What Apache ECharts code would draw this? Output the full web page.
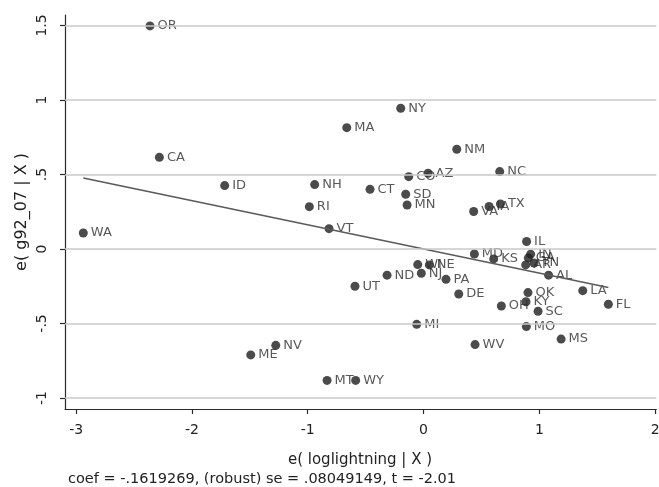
<!DOCTYPE html>
<html>
<head>
<meta charset="utf-8">
<script src="https://cdn.jsdelivr.net/npm/echarts@6/dist/echarts.min.js"></script>
<style>
  html, body { margin: 0; padding: 0; background: #ffffff; }
  #chart { width: 659px; height: 487px; }
</style>
</head>
<body>
<div id="chart"></div>
<script>
// Added-variable plot: residual growth vs residual log lightning, by state
const states = ['OR','MA','NY','CA','ID','NH','CT','CO','AZ','NM','NC','SD','MN','RI','VA','IA','TX','WA','VT',
  'IL','MD','KS','IN','GA','TN','AR','AL','WI','NE','NJ','ND','PA','DE','OK','KY','OH','SC','MI','MO','WV',
  'MS','UT','LA','FL','NV','ME','MT','WY'];
const xResid = [-2.362,-0.663,-0.197,-2.281,-1.717,-0.940,-0.462,-0.128,0.039,0.287,0.658,-0.154,-0.142,-0.986,0.433,0.566,0.664,-2.938,-0.816,
  0.890,0.439,0.606,0.925,0.905,0.954,0.882,1.080,-0.050,0.050,-0.019,-0.315,0.194,0.304,0.902,0.885,0.672,0.989,-0.059,0.888,0.445,
  1.188,-0.592,1.375,1.596,-1.276,-1.492,-0.833,-0.586];
const yResid = [1.497,0.814,0.944,0.615,0.425,0.432,0.400,0.485,0.508,0.669,0.519,0.367,0.295,0.284,0.251,0.285,0.302,0.107,0.136,
  0.050,-0.034,-0.067,-0.035,-0.060,-0.094,-0.107,-0.176,-0.105,-0.107,-0.163,-0.176,-0.204,-0.302,-0.293,-0.354,-0.383,-0.418,-0.506,-0.521,-0.642,
  -0.605,-0.250,-0.280,-0.371,-0.647,-0.711,-0.882,-0.882];

const coef = -0.1619269;
const footnote = 'coef = -.1619269, (robust) se = .08049149, t = -2.01';

const xTicks = [-3, -2, -1, 0, 1, 2];
const xTickLabels = ['-3', '-2', '-1', '0', '1', '2'];
const yTicks = [-1, -0.5, 0, 0.5, 1, 1.5];
const yTickLabels = ['-1', '-.5', '0', '.5', '1', '1.5'];

const FONT = 'DejaVu Sans';
const points = states.map((s, i) => [xResid[i], yResid[i], s]);

// fitted line through the origin over the range of the data
const xLo = Math.min(...xResid), xHi = Math.max(...xResid);
const fitLine = [[xLo, coef * xLo], [xHi, coef * xHi]];

const labelFor = (ticks, labels) => v => {
  const i = ticks.findIndex(t => Math.abs(t - v) < 1e-9);
  return i >= 0 ? labels[i] : '';
};

const chart = echarts.init(document.getElementById('chart'), null, { renderer: 'canvas' });
chart.setOption({
  animation: false,
  backgroundColor: '#ffffff',
  grid: { left: 65, right: 2.7, top: 15, bottom: 78, containLabel: false, outerBoundsMode: 'none' },
  xAxis: {
    type: 'value', min: -3.096, max: 2.01,
    axisLine: { show: true, onZero: false, lineStyle: { color: '#2a2a2a', width: 1.2 } },
    axisTick: { show: true, customValues: xTicks, length: 5, lineStyle: { color: '#2a2a2a', width: 1.2 } },
    axisLabel: { customValues: xTicks, formatter: labelFor(xTicks, xTickLabels), margin: 14,
      color: '#222', fontFamily: FONT, fontSize: 14 },
    splitLine: { show: false }
  },
  yAxis: {
    type: 'value', min: -1.074, max: 1.57,
    axisLine: { show: true, onZero: false, lineStyle: { color: '#2a2a2a', width: 1.2 } },
    axisTick: { show: true, customValues: yTicks, length: 5, lineStyle: { color: '#2a2a2a', width: 1.2 } },
    axisLabel: { customValues: yTicks, formatter: labelFor(yTicks, yTickLabels), rotate: 90, margin: 16,
      color: '#222', fontFamily: FONT, fontSize: 14 },
    splitLine: { show: false }
  },
  series: [
    {
      type: 'scatter',
      data: points,
      symbol: 'circle',
      symbolSize: 9,
      itemStyle: { color: '#1e1e1e' },
      label: {
        show: true, position: 'right', distance: 3,
        formatter: p => p.data[2],
        color: '#2e2e2e', fontFamily: FONT, fontSize: 13
      },
      markLine: {
        silent: true, symbol: 'none', animation: false,
        label: { show: false },
        lineStyle: { color: '#c8c8c8', width: 1.6, type: 'solid' },
        data: yTicks.map(v => ({ yAxis: v }))
      },
      z: 3
    },
    {
      type: 'line',
      data: fitLine,
      symbol: 'none',
      lineStyle: { color: '#5a5a5a', width: 1.6 },
      z: 4
    }
  ],
  graphic: [
    { type: 'text', x: 22, y: 212, rotation: Math.PI / 2,
      style: { text: 'e( g92_07 | X )', align: 'center', verticalAlign: 'middle',
        font: '16px "DejaVu Sans"', fill: '#222' } },
    { type: 'text', x: 360, y: 460,
      style: { text: 'e( loglightning | X )', align: 'center', verticalAlign: 'middle',
        font: '15px "DejaVu Sans"', fill: '#222' } },
    { type: 'text', x: 68, y: 479,
      style: { text: footnote, align: 'left', verticalAlign: 'middle',
        font: '14.5px "DejaVu Sans"', fill: '#222' } }
  ]
});
</script>
</body>
</html>
